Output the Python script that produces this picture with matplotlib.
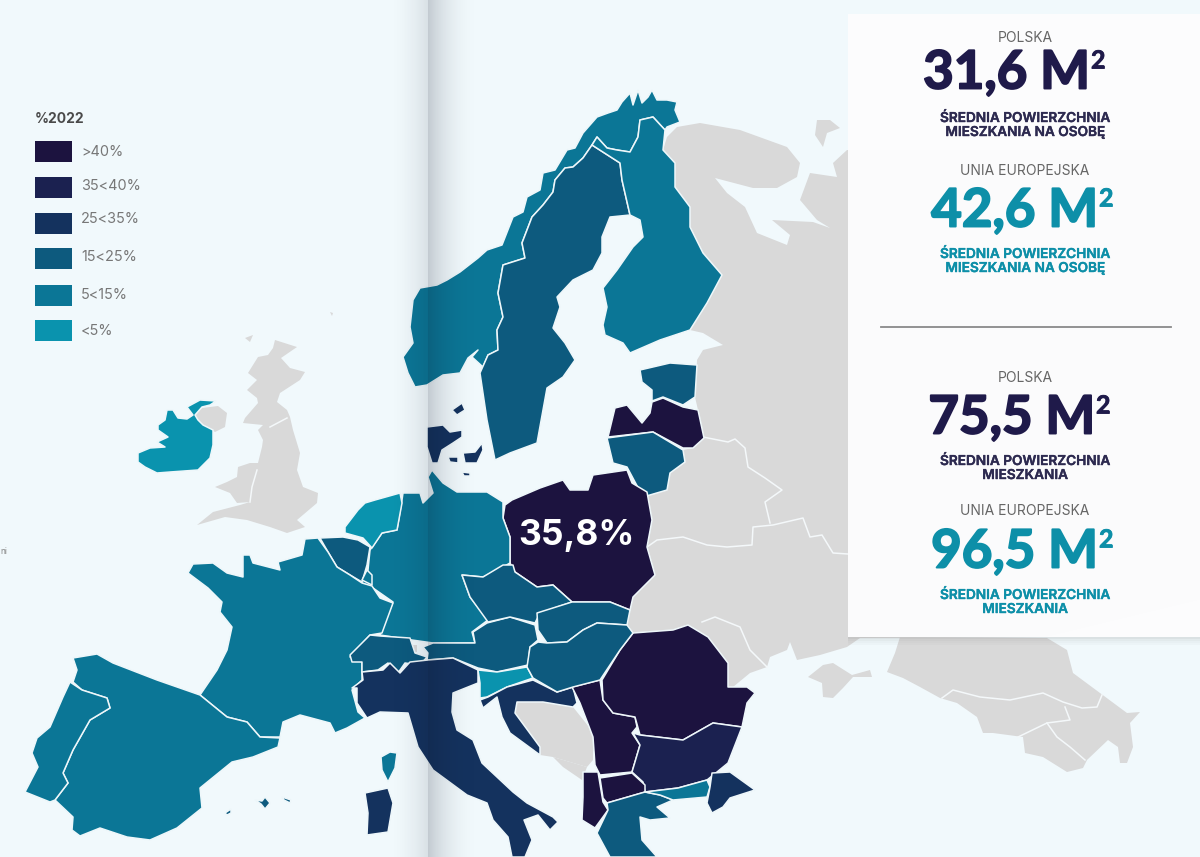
import numpy as np
import matplotlib
matplotlib.use("Agg")
import matplotlib.pyplot as plt
from matplotlib.patches import Polygon, Rectangle
import matplotlib.patheffects as pe

plt.rcParams['font.family'] = ['Inter', 'DejaVu Sans']

# Legend
legend_title = "%2022"
class_labels = [">40%", "35<40%", "25<35%", "15<25%", "5<15%", "<5%"]
class_colors = ["#1c133f", "#1b2150", "#14325e", "#0d5a7e", "#0b7696", "#0a93ae"]
land_color = "#d9d9d9"
bg_color = "#f1f9fc"
dark_text = "#1f1a4a"
teal_text = "#0d8fa8"

# Map outlines
NORWAY = [(415,387),(408,373),(403,357),(413,343),(410,327),(413,300),(420,288),(437,285),(447,280),(460,272),(478,258),(487,250),(502,245),(513,217),(523,212),(527,197),(540,190),(543,173),(555,170),(567,150),(575,148),(583,133),(597,117),(608,113),(617,110),(622,102),(630,93),(633,105),(638,90),(642,103),(648,97),(652,90),(657,100),(667,100),(677,102),(675,110),(680,122),(667,127),(665,130),(653,117),(640,120),(638,137),(630,152),(617,150),(607,148),(597,137),(592,145),(583,158),(573,167),(565,168),(555,180),(553,192),(543,205),(532,217),(522,243),(525,258),(503,265),(498,293),(503,317),(497,330),(498,350),(488,355),(483,367),(472,357),(478,350),(468,358),(460,373),(443,375),(427,385)]
SWEDEN = [(592,145),(620,163),(622,180),(630,215),(610,217),(602,237),(602,253),(593,270),(573,280),(557,297),(560,307),(553,328),(565,343),(575,360),(563,377),(547,388),(537,443),(510,453),(495,460),(487,420),(480,373),(488,355),(498,350),(497,330),(503,317),(498,293),(503,265),(525,258),(522,243),(532,217),(543,205),(553,192),(555,180),(565,168),(573,167),(583,158)]
FINLAND = [(597,137),(607,148),(617,150),(630,152),(638,137),(640,120),(653,117),(665,130),(663,150),(675,163),(675,187),(690,207),(690,227),(703,253),(722,275),(707,303),(690,330),(660,340),(630,353),(623,343),(605,335),(603,325),(607,307),(603,288),(617,270),(633,247),(643,237),(640,220),(630,215),(622,180),(620,163),(592,145)]
ESTONIA = [(640,370),(670,363),(697,365),(695,397),(683,405),(663,397),(652,401),(652,390),(642,382)]
LATVIA = [(608,437),(615,408),(627,405),(642,423),(650,413),(652,402),(663,398),(683,407),(698,410),(704,438),(693,448),(683,448),(653,432)]
LITHUANIA = [(607,438),(653,432),(683,450),(685,462),(670,473),(667,490),(643,497),(627,467),(613,463)]
POLAND = [(503,518),(505,505),(512,500),(540,488),(563,480),(570,490),(588,490),(593,475),(627,470),(632,483),(647,492),(652,520),(647,547),(655,575),(633,597),(630,610),(610,602),(587,602),(572,602),(553,585),(537,587),(515,572),(510,563),(510,537)]
GERMANY = [(432,470),(443,483),(457,492),(487,492),(503,502),(503,518),(510,537),(510,563),(503,567),(483,577),(462,575),(470,597),(488,620),(472,632),(475,643),(433,643),(412,640),(380,635),(393,602),(373,588),(360,582),(368,570),(370,550),(382,533),(397,530),(402,500),(403,493),(420,493),(423,503),(433,493),(428,477)]
NETHERLANDS = [(345,527),(358,510),(365,503),(375,500),(400,493),(402,503),(397,530),(382,533),(372,548),(363,538),(345,533)]
BELGIUM = [(320,538),(343,537),(358,540),(370,547),(367,565),(362,582),(350,575),(337,567),(328,552)]
LUXEMBOURG = [(362,580),(367,570),(372,575),(372,585)]
FRANCE = [(188,573),(193,564),(213,563),(227,573),(243,577),(243,555),(250,555),(253,563),(280,570),(278,562),(302,555),(305,539),(318,538),(328,552),(337,567),(350,575),(362,583),(372,586),(380,598),(393,603),(382,633),(370,635),(350,657),(362,662),(362,680),(352,690),(358,712),(365,718),(347,728),(335,733),(330,723),(300,715),(283,722),(280,737),(260,737),(247,722),(227,717),(200,695),(217,670),(227,650),(232,627),(220,612),(222,602),(208,588)]
SPAIN = [(73,658),(97,654),(113,663),(157,680),(200,695),(227,717),(247,722),(260,737),(280,738),(278,747),(253,757),(232,762),(200,788),(202,808),(177,828),(150,840),(127,837),(100,828),(80,836),(72,830),(73,817),(55,800),(68,783),(63,773),(73,750),(90,720),(110,708),(107,698),(82,690),(73,682),(77,670)]
PORTUGAL = [(70,682),(82,690),(107,698),(110,708),(90,720),(73,750),(63,773),(68,783),(55,800),(50,802),(25,792),(38,767),(32,753),(37,738),(50,727),(63,697)]
MALLORCA = [(255,800),(262,801),(265,797),(270,803),(265,809),(261,804)]
MENORCA = [(282,797),(291,800),(290,803),(284,800)]
IBIZA = [(225,813),(231,809),(231,813),(227,815)]
CORSICA = [(381,757),(390,752),(397,753),(395,768),(388,782),(382,770)]
SARDINIA = [(365,793),(388,788),(393,803),(388,832),(367,835),(368,813)]
SWITZERLAND = [(350,655),(370,635),(380,636),(410,638),(415,653),(427,657),(420,665),(405,663),(398,673),(388,663),(378,670),(362,672),(362,662),(352,662)]
AUSTRIA = [(423,647),(433,643),(475,643),(473,632),(487,623),(510,617),(535,625),(538,640),(530,647),(528,665),(497,672),(478,668),(453,658),(427,660),(428,653)]
ITALY = [(362,672),(383,670),(390,663),(400,673),(410,662),(428,660),(453,658),(478,670),(478,683),(453,693),(452,712),(457,730),(473,740),(482,763),(513,792),(527,803),(553,817),(558,822),(550,830),(538,815),(524,820),(532,840),(525,857),(512,857),(508,837),(493,820),(487,803),(467,795),(433,770),(418,747),(408,713),(380,712),(367,718),(357,703),(357,688),(352,688),(363,680)]
SLOVENIA = [(478,670),(497,672),(527,667),(533,678),(507,687),(487,697),(480,698),(480,683)]
CROATIA = [(480,700),(488,697),(507,687),(533,680),(557,692),(573,687),(577,703),(573,707),(543,702),(517,702),(515,713),(540,747),(540,755),(510,733),(502,717),(497,697),(483,708)]
BOSNIA = [(517,702),(543,702),(573,707),(593,732),(593,760),(587,767),(553,757),(540,755),(540,747),(515,713)]
MONTENEGRO = [(553,757),(587,767),(582,780),(563,767)]
SERBIA = [(572,687),(600,680),(603,700),(613,713),(635,717),(637,727),(632,733),(640,745),(632,772),(600,775),(595,765),(593,737),(580,703)]
ROMANIA = [(602,680),(620,650),(633,633),(673,630),(688,625),(708,637),(728,663),(728,687),(747,687),(755,693),(747,703),(742,727),(713,723),(683,740),(640,735),(635,717),(613,713),(603,700)]
BULGARIA = [(633,733),(640,735),(683,740),(713,723),(742,727),(728,763),(717,772),(707,780),(678,788),(645,792),(643,782),(632,772),(640,745)]
MACEDONIA = [(600,778),(632,773),(645,785),(645,792),(607,803),(603,798)]
ALBANIA = [(583,772),(598,772),(603,802),(608,810),(595,828),(582,820),(583,797)]
GREECE = [(607,803),(645,792),(660,795),(673,800),(657,807),(670,818),(650,820),(640,817),(642,840),(657,857),(610,857),(597,833),(608,810)]
THRACE = [(645,792),(678,788),(707,780),(710,787),(707,797),(673,800),(660,795)]
TURKEY_EU = [(707,803),(710,787),(712,773),(730,772),(755,790),(730,798),(723,807),(712,813)]
CZECHIA = [(462,575),(483,577),(503,565),(513,565),(515,572),(537,587),(553,585),(572,602),(540,613),(535,623),(510,617),(488,622),(470,597)]
SLOVAKIA = [(572,602),(587,602),(610,602),(630,610),(627,625),(597,623),(583,630),(567,642),(547,643),(538,630),(537,613)]
HUNGARY = [(538,642),(547,643),(567,642),(583,630),(597,623),(627,625),(633,633),(620,650),(600,680),(573,687),(557,692),(533,678),(527,667),(530,647)]
DENMARK = [(427,427),(443,425),(450,432),(462,430),(462,437),(453,443),(442,450),(438,463),(432,463),(427,447)]
DK_NORTH = [(452,410),(462,403),(465,410),(457,415)]
DK_FYN = [(448,457),(458,457),(458,463),(450,462)]
DK_ZEALAND = [(463,453),(475,452),(482,443),(483,450),(477,463),(465,463)]
DK_LOLLAND = [(462,472),(470,473),(470,476),(464,476)]
IRELAND = [(138,453),(150,448),(165,447),(157,442),(168,437),(158,430),(158,425),(165,420),(167,410),(173,410),(178,418),(187,419),(193,415),(187,407),(200,400),(216,401),(210,405),(202,407),(195,415),(198,420),(203,425),(213,430),(213,445),(210,458),(198,470),(170,472),(157,473),(145,467),(138,462)]

GB = [(275,340),(297,347),(281,358),(290,368),(305,372),(300,380),(280,393),(277,402),(287,410),(290,417),(293,430),(300,453),(297,470),(303,487),(318,493),(317,503),(297,520),(305,527),(287,533),(270,527),(247,520),(225,517),(197,525),(213,512),(240,505),(250,502),(237,503),(230,493),(215,487),(227,482),(237,477),(238,467),(250,463),(258,463),(262,447),(263,440),(258,430),(263,425),(243,423),(245,418),(258,403),(257,398),(247,390),(257,380),(248,373),(258,357),(268,355),(273,348)]
HEBRIDES = [(245,338),(253,335),(250,342)]
N_IRELAND = [(195,415),(202,408),(218,406),(227,413),(225,427),(215,432),(203,425),(198,420)]
RUSSIA_EAST = [(667,137),(677,127),(700,123),(740,130),(787,147),(800,163),(797,177),(777,188),(753,188),(715,178),(727,193),(745,207),(757,233),(787,245),(790,235),(772,220),(813,222),(830,228),(817,220),(800,200),(810,173),(837,177),(833,163),(847,150),(1200,150),(1200,600),(1047,637),(860,638),(847,647),(820,655),(797,660),(790,642),(787,650),(770,657),(767,667),(750,673),(733,687),(728,687),(728,663),(708,637),(688,625),(673,630),(633,633),(627,625),(630,610),(633,597),(655,575),(647,547),(652,520),(647,492),(643,497),(667,490),(670,473),(685,462),(683,450),(693,448),(704,438),(698,410),(695,397),(697,360),(703,350),(723,345),(703,333),(690,330),(707,303),(722,275),(703,253),(690,227),(690,207),(675,187),(675,163),(663,150)]
KANIN = [(817,120),(830,120),(840,128),(827,133),(823,147),(815,135)]
CAUCASUS = [(900,637),(1047,638),(1067,650),(1073,673),(1100,693),(1127,713),(1140,712),(1130,723),(1133,747),(1127,763),(1120,763),(1118,747),(1108,740),(1087,760),(1083,768),(1067,772),(1043,757),(1025,753),(1023,737),(993,733),(983,733),(977,717),(957,703),(940,698),(920,687),(903,678),(887,672),(895,653)]
CRIMEA = [(808,677),(823,665),(833,663),(852,675),(870,670),(872,677),(853,677),(843,688),(833,698),(823,697),(822,683)]
LIECHTENSTEIN = [(412,645),(417,645),(417,652),(412,652)]
FAROE = [(330,312),(333,313),(332,316)]

# class index into class_labels for each coloured shape
shapes = [NORWAY, SWEDEN, FINLAND, ESTONIA, LATVIA, LITHUANIA, POLAND, GERMANY, NETHERLANDS,
          BELGIUM, LUXEMBOURG, FRANCE, SPAIN, PORTUGAL, MALLORCA, MENORCA, IBIZA, CORSICA, SARDINIA,
          SWITZERLAND, AUSTRIA, ITALY, SLOVENIA, CROATIA, SERBIA, ROMANIA, BULGARIA, MACEDONIA,
          ALBANIA, GREECE, THRACE, TURKEY_EU, CZECHIA, SLOVAKIA, HUNGARY, DENMARK, DK_NORTH, DK_FYN,
          DK_ZEALAND, DK_LOLLAND, IRELAND]
shape_class = [4, 3, 4, 3, 0, 3, 0, 4, 5,
               3, 4, 4, 4, 4, 3, 3, 3, 4, 2,
               3, 3, 2, 5, 2, 0, 0, 1, 0,
               0, 3, 4, 2, 3, 3, 3, 2, 2, 2,
               2, 2, 5]
grey_shapes = [GB, HEBRIDES, N_IRELAND, RUSSIA_EAST, KANIN, CAUCASUS, CRIMEA, BOSNIA, MONTENEGRO, LIECHTENSTEIN, FAROE]

# borders inside the grey land
BELARUS_S = [(647,547),(657,540),(683,537),(707,545),(727,547),(752,545),(753,527),(773,525),(803,518),(810,537),(822,535),(833,553),(848,554)]
BELARUS_N = [(703,437),(728,442),(735,439),(745,448),(748,467),(765,478),(782,490),(765,502),(770,523)]
MOLDOVA = [(702,622),(715,617),(740,627),(750,650),(767,667)]
WALES = [(257,470),(252,487),(250,502)]
SCOTLAND = [(270,427),(287,418)]
GEORGIA = [(942,698),(953,690),(980,697),(1010,700),(1043,693),(1063,702),(1082,708),(1097,707),(1102,695)]
ARMENIA_N = [(1018,737),(1047,723),(1070,720),(1065,707)]
ARMENIA_E = [(1047,723),(1057,737),(1070,747),(1085,760)]
grey_borders = [BELARUS_S, BELARUS_N, MOLDOVA, WALES, SCOTLAND, GEORGIA, ARMENIA_N, ARMENIA_E]

fig = plt.figure(figsize=(12, 8.57), dpi=100)
ax = fig.add_axes([0, 0, 1, 1])
ax.set_xlim(0, 1200)
ax.set_ylim(857, 0)
ax.axis('off')
ax.add_patch(Rectangle((0, 0), 1200, 857, fc=bg_color, ec='none', zorder=0))

for s in grey_shapes:
    ax.add_patch(Polygon(s, closed=True, fc=land_color, ec='none', zorder=1))
for line in grey_borders:
    ax.plot(*zip(*line), color='#f4f8fa', lw=1.1, zorder=1.5)
for s, c in zip(shapes, shape_class):
    ax.add_patch(Polygon(s, closed=True, fc=class_colors[c], ec='#eef7fa', lw=1.1, zorder=2, joinstyle='round'))

# fold of the page
xs = np.arange(1200)
alpha = np.zeros(1200)
left = (xs >= 385) & (xs < 428)
alpha[left] = 0.11 * ((xs[left] - 385) / 43.0) ** 2
right = (xs >= 428) & (xs < 485)
alpha[right] = 0.2 * (1 - (xs[right] - 428) / 57.0) ** 2.5
fold = np.zeros((1, 1200, 4))
fold[0, :, 0] = 0.05
fold[0, :, 1] = 0.07
fold[0, :, 2] = 0.15
fold[0, :, 3] = alpha
ax.imshow(fold, extent=(0, 1200, 857, 0), aspect='auto', zorder=3)
ax.set_xlim(0, 1200)
ax.set_ylim(857, 0)

# right panel
for k, a in enumerate([0.16, 0.1, 0.06, 0.03]):
    ax.add_patch(Rectangle((848, 637 + k * 2), 352, 2, fc='#666666', alpha=a, ec='none', zorder=4))
ax.add_patch(Rectangle((848, 14), 352, 623, fc='#fdfdfe', alpha=0.97, ec='none', zorder=5))
ax.plot([881, 1171], [327, 327], color='#8a8a8a', lw=1.3, zorder=6)

# legend
legend_y = [141, 177, 213, 248, 285, 320]
label_y = [152, 186, 219, 257, 295, 331]
ax.text(35, 119, legend_title, fontsize=10, weight='bold', color='#4a4a4a', va='center', zorder=6)
for y, ty, col, lab in zip(legend_y, label_y, class_colors, class_labels):
    ax.add_patch(Rectangle((34.5, y), 37, 20.5, fc=col, ec='none', zorder=6))
    ax.text(81, ty, lab, fontsize=10.4, color='#777777', va='center', zorder=6)
ax.text(0, 551, "ni", fontsize=6, color='#888888', va='center', zorder=6)


def big_value(txt, x_right, y, col):
    t = ax.text(x_right, y, txt, fontsize=38, family='Lato', weight='bold', color=col, ha='right', va='center', zorder=6)
    t.set_path_effects([pe.withStroke(linewidth=1.4, foreground=col)])
    s = ax.text(x_right + 1, y - 12, "2", fontsize=18, family='Lato', weight='bold', color=col, ha='left', va='center', zorder=6)
    s.set_path_effects([pe.withStroke(linewidth=0.6, foreground=col)])


def small_caps(txt, y, col, size=9.8, bold=True):
    t = ax.text(1025, y, txt, fontsize=size, color=col, ha='center', va='center',
                weight='semibold' if bold else 'normal', zorder=6)
    if bold:
        t.set_path_effects([pe.withStroke(linewidth=0.3, foreground=col)])


small_caps("POLSKA", 38, '#666666', 10, False)
big_value("31,6 M", 1090, 73, dark_text)
small_caps("ŚREDNIA POWIERZCHNIA", 118, '#2d2a50')
small_caps("MIESZKANIA NA OSOBĘ", 132, '#2d2a50')
small_caps("UNIA EUROPEJSKA", 171, '#666666', 10, False)
big_value("42,6 M", 1098, 211, teal_text)
small_caps("ŚREDNIA POWIERZCHNIA", 254, teal_text)
small_caps("MIESZKANIA NA OSOBĘ", 268, teal_text)
small_caps("POLSKA", 378, '#666666', 10, False)
big_value("75,5 M", 1095, 418, dark_text)
small_caps("ŚREDNIA POWIERZCHNIA", 461, '#2d2a50')
small_caps("MIESZKANIA", 475, '#2d2a50')
small_caps("UNIA EUROPEJSKA", 511, '#666666', 10, False)
big_value("96,5 M", 1098, 552, teal_text)
small_caps("ŚREDNIA POWIERZCHNIA", 595, teal_text)
small_caps("MIESZKANIA", 609, teal_text)

t = ax.text(576, 536, "35,8%", fontsize=25.5, weight='bold', color='white', ha='center', va='center', zorder=6)

fig.savefig('out.png', dpi=100)
